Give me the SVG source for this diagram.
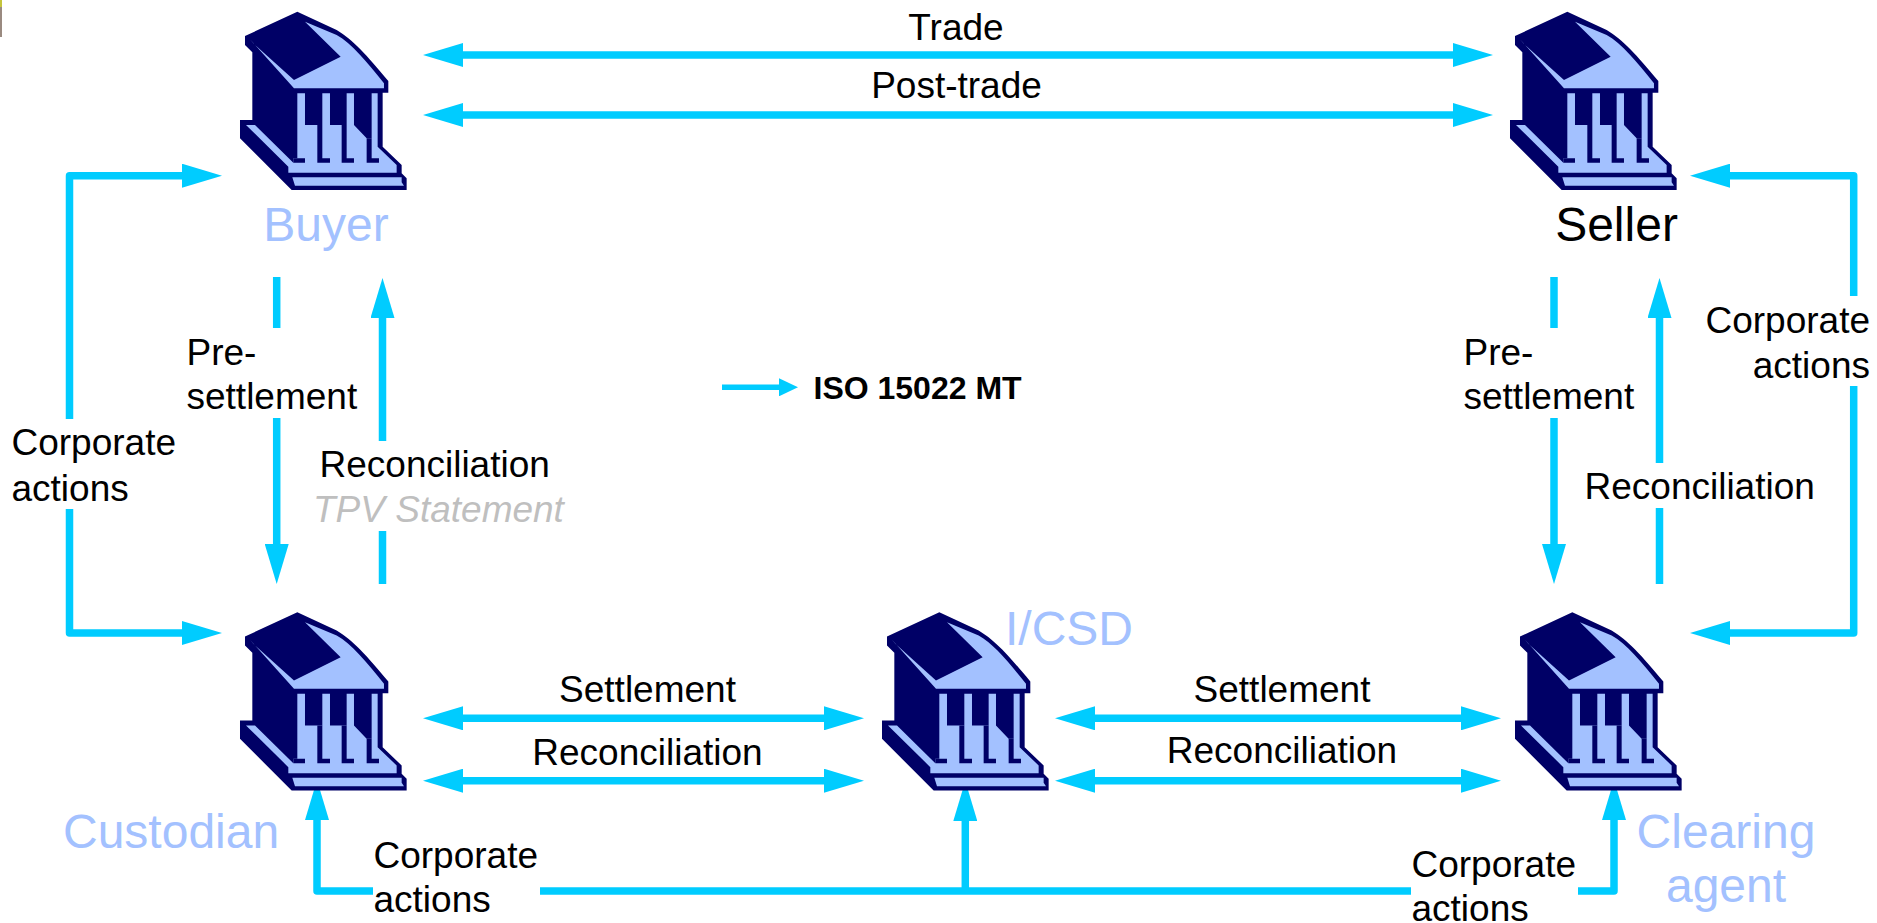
<svg xmlns="http://www.w3.org/2000/svg" width="1877" height="923" viewBox="0 0 1877 923">
<style>
text{font-family:"Liberation Sans",Arial,sans-serif;fill:#000}
.l{font-size:37px}
.n{font-size:48px;fill:#A3C1FF}
.m{text-anchor:middle}
.e{text-anchor:end}
.c{fill:none;stroke:#00CCFF;stroke-width:7.500;stroke-linejoin:round}
.a{marker-end:url(#h)}
.b{marker-start:url(#h);marker-end:url(#h)}
.s{fill:#00CCFF}
.d{fill:#000066}
.f{fill:#A3C1FF}
</style>
<defs>
<marker id="h" markerUnits="userSpaceOnUse" markerWidth="40" markerHeight="24" refX="1" refY="12" orient="auto-start-reverse"><path class="s" d="M0 0L40 12L0 24Z"/></marker>
<marker id="h2" markerUnits="userSpaceOnUse" markerWidth="20" markerHeight="18" refX="1" refY="9" orient="auto"><path class="s" d="M0 0L19 9L0 18Z"/></marker>
<g id="bank" transform="translate(220 0) scale(.3333)">
<path class="d" d="M232 35L75 108V135L97 157V360H60V415L215 570H560V535L545 520V495L488 440V278H505V243C440 165 400 120 350 90Z"/>
<path class="f" d="M90 118L222 265H492V250C440 185 395 130 350 105L255 65L362 170L222 240L100 130Z"/>
<path class="f" d="M78 375H105L220 488V475H232V280H255V375H307V280H330V375H380V280H402V375L440 415H455V280H473V440L530 495V518H205V500Z"/>
<path class="d" d="M292 375H307V475H330V488H292ZM365 375H380V475H402V488H365ZM440 415H455V475H477V488H440ZM220 475H255V488H220Z"/>
<path class="f" d="M217 532H545V547L552 557H225Z"/>
</g>
</defs>
<rect x="0" y="0" width="2" height="7" fill="#C4C43C"/>
<rect x="0" y="7" width="2" height="30" fill="#9A8A80"/>
<g id="connectors">
<path class="c b" d="M462 55H1454"/>
<path class="c b" d="M462 115H1454"/>
<path class="c a" d="M69.500 419V175.700H183"/>
<path class="c a" d="M69.500 509V633H183"/>
<path class="c" d="M276.700 277V328"/>
<path class="c a" d="M276.700 418V545"/>
<path class="c a" d="M382.500 441V317"/>
<path class="c" d="M382.500 531V584"/>
<path class="c" d="M1554 277V328"/>
<path class="c a" d="M1554 418V545"/>
<path class="c a" d="M1659.500 463V317"/>
<path class="c" d="M1659.500 508V584"/>
<path class="c a" d="M1853.700 296V175.700H1729"/>
<path class="c a" d="M1853.700 386V633H1729"/>
<path class="c b" d="M462 718.300H825"/>
<path class="c b" d="M462 780.700H825"/>
<path class="c b" d="M1094 718.300H1462"/>
<path class="c b" d="M1094 780.700H1462"/>
<path class="c a" d="M373 891H317V819"/>
<path class="c" d="M540 891H1411"/>
<path class="c a" d="M1578 891H1614V819"/>
<path class="c a" d="M965.300 891V820"/>
<path d="M722 387.300H780" fill="none" stroke="#00CCFF" stroke-width="5.500" marker-end="url(#h2)"/>
</g>
<g id="buyer"><use href="#bank"/><text class="n m" x="326" y="240.500">Buyer</text></g>
<g id="seller"><use href="#bank" x="1270"/><text class="m" style="font-size:48px" x="1616.500" y="240.500">Seller</text></g>
<g id="custodian"><use href="#bank" y="600.500"/><text class="n" x="63" y="848">Custodian</text></g>
<g id="icsd"><use href="#bank" x="642" y="600.500"/><text class="n" x="1005" y="645">I/CSD</text></g>
<g id="clearing"><use href="#bank" x="1275" y="600.500"/><text class="n m" x="1726" y="848">Clearing</text><text class="n m" x="1726" y="902">agent</text></g>
<g id="labels">
<text class="l m" x="956" y="40">Trade</text>
<text class="l m" x="956.500" y="98">Post-trade</text>
<text class="l" x="186.500" y="364.500">Pre-</text><text class="l" x="186.500" y="409">settlement</text>
<text class="l" x="11.500" y="455">Corporate</text><text class="l" x="11.500" y="500.500">actions</text>
<text class="l" x="319.500" y="477">Reconciliation</text>
<text class="l" x="313" y="522" style="font-style:italic;fill:#BFBFBF">TPV Statement</text>
<text class="l" x="1463.500" y="364.500">Pre-</text><text class="l" x="1463.500" y="409">settlement</text>
<text class="l" x="1584.500" y="499">Reconciliation</text>
<text class="l e" x="1870" y="333">Corporate</text><text class="l e" x="1870" y="378">actions</text>
<text class="l m" x="647.500" y="702">Settlement</text><text class="l m" x="647.500" y="765">Reconciliation</text>
<text class="l m" x="1282" y="702">Settlement</text><text class="l m" x="1282" y="763">Reconciliation</text>
<text class="l" x="373.500" y="867.500">Corporate</text><text class="l" x="373.500" y="911.500">actions</text>
<text class="l" x="1411.500" y="877">Corporate</text><text class="l" x="1411.500" y="921">actions</text>
<text x="813.500" y="398.500" style="font-size:32px;font-weight:bold">ISO 15022 MT</text>
</g>
</svg>
